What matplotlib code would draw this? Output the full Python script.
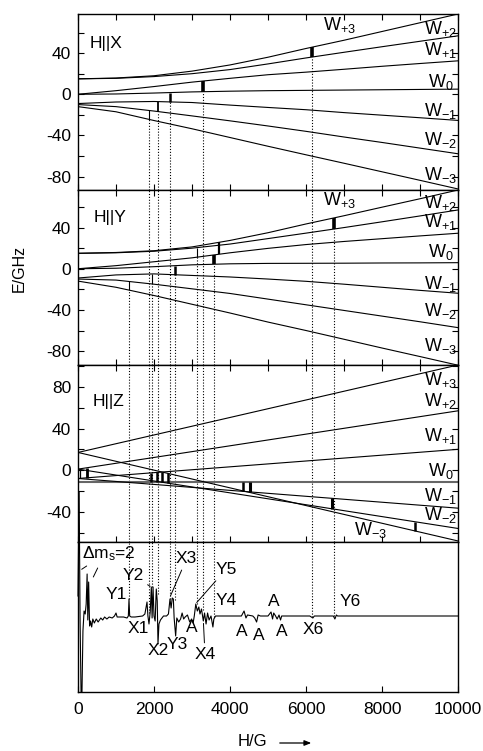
import numpy as np
import matplotlib
matplotlib.use('Agg')
import matplotlib.pyplot as plt
from matplotlib.ticker import MultipleLocator

plt.rcParams['font.family'] = ['Liberation Sans', 'DejaVu Sans']
plt.rcParams['mathtext.fontset'] = 'custom'
plt.rcParams['mathtext.rm'] = 'Liberation Sans'
plt.rcParams['mathtext.it'] = 'Liberation Sans:italic'
plt.rcParams['mathtext.default'] = 'regular'
plt.rcParams['axes.unicode_minus'] = False
plt.rcParams['axes.linewidth'] = 1.0

LEVELS = ['+3', '+2', '+1', '0', '-1', '-2', '-3']

# magnetic field (G) where the level energies were read
FIELD = [0, 1000, 2000, 3000, 4000, 5000, 6000, 7000, 8000, 9000, 10000]

# H||X energy levels (GHz)
hx_p3 = [15, 15.8, 18, 22.5, 28.5, 36, 44.5, 52.5, 61, 69.5, 78]
hx_p2 = [15, 15.5, 17.2, 20, 24, 29.5, 35.3, 40.8, 46.2, 51.5, 56.8]
hx_p1 = [0, 3.5, 7.5, 11.8, 15.5, 19, 21.5, 24.3, 27.2, 29.9, 32.5]
hx_0 = [0, 0.3, 1.2, 2.3, 3, 3.5, 3.8, 4.1, 4.4, 4.7, 5]
hx_m1 = [-9, -7.5, -7, -8, -10.5, -12.8, -15, -17.8, -20.3, -22.8, -25.4]
hx_m2 = [-10, -12, -16.3, -21, -25.8, -30.8, -36, -41.5, -46.8, -52.3, -57.8]
hx_m3 = [-12, -17, -25.5, -33.5, -42, -50.5, -58.8, -67, -75.3, -83.6, -92]

# H||Y energy levels (GHz)
hy_p3 = [15, 15.8, 17.5, 21.2, 27.5, 35, 43.5, 51.5, 59.8, 68, 76.5]
hy_p2 = [15, 15.5, 17, 20, 24, 29.3, 34.6, 40, 45.6, 51.3, 57.1]
hy_p1 = [0, 3, 6.8, 10.6, 15.5, 19.8, 23.5, 26.5, 29.2, 31.9, 34.5]
hy_0 = [0, 0.5, 2, 3.8, 4.8, 5.2, 5.3, 5.4, 5.6, 5.7, 5.9]
hy_m1 = [-9, -6, -5, -6.5, -8, -10, -12.2, -15, -18, -21, -23.8]
hy_m2 = [-10, -11, -15, -19.5, -24, -29.5, -35, -40.5, -46, -51.5, -57.2]
hy_m3 = [-12, -18, -26, -34.5, -43, -51.8, -60, -68.5, -77, -85.3, -93.7]

# H||Z energy levels (GHz), straight lines
FIELD_Z = [0, 10000]
hz_p3 = [17, 101]
hz_p2 = [1, 57]
hz_p1 = [-8, 20]
hz_0 = [-11.2, -11.2]
hz_m1 = [-8, -36.5]
hz_m2 = [1, -56]
hz_m3 = [17, -68]

# resonance transitions: field, upper level, lower level
X_NAMES = ['X1', 'X2', 'X3', 'X4', 'X6']
X_FIELDS = [1868, 2100, 2425, 3285, 6160]
X_UPPER = ['-2', '-1', '0', '+1', '+3']
X_LOWER = ['-3', '-2', '-1', '0', '+2']

Y_NAMES = ['Y1', 'Y2', 'Y3', 'Y5', 'Y4', '', 'Y6']
Y_FIELDS = [1342, 1960, 2540, 3130, 3575, 3711, 6730]
Y_UPPER = ['-2', '-1', '0', '+2', '+1', '+3', '+3']
Y_LOWER = ['-3', '-2', '-1', '+1', '0', '+1', '+2']

Z_FIELDS = [60, 230, 1921, 2070, 2219, 2377, 4351, 4526, 6693, 8868]
Z_UPPER = ['+2', '+2', '+1', '+1', '-3', '-3', '0', '0', '-1', '-2']
Z_LOWER = ['+1', '+1', '0', '0', '-2', '-2', '-1', '-1', '-2', '-3']

# EPR spectrum (derivative, arbitrary units, baseline = 0)
SPEC_FIELD = [0, 30, 55, 80, 105, 130, 160, 190, 215, 240,
              258, 280, 305, 330, 360, 390, 430, 480, 530, 600,
              650, 700, 760, 820, 900, 960, 1000, 1030, 1100, 1200,
              1290, 1325, 1342, 1360, 1400, 1500, 1600, 1700, 1760, 1816,
              1840, 1868, 1900, 1930, 1950, 1975, 2000, 2030, 2060, 2085,
              2105, 2130, 2170, 2250, 2330, 2380, 2421, 2450, 2480, 2509,
              2530, 2570, 2600, 2650, 2700, 2740, 2780, 2820, 2880, 2940,
              2990, 3030, 3060, 3100, 3140, 3180, 3210, 3250, 3298, 3330,
              3370, 3410, 3450, 3500, 3550, 3575, 3620, 4300, 4370, 4420,
              4460, 4600, 4650, 4700, 4740, 4800, 5000, 5080, 5120, 5150,
              5200, 5240, 5290, 5330, 5360, 6100, 6180, 6220, 6720, 6760,
              6800, 6830, 10000]
SPEC_SIGNAL = [20, 124, -5, -76, -76, -15, 5, 2, 12, 42,
               -4, 34, -10, -5, -11, -3, -7, -3, -6, -2,
               -4, -1, -3, -1, -2, 0, 3, -1, -1, -1,
               -2, 0, 17, 0, -1, -1, -0.5, 0, 2, 14,
               0, -8, 4, 29, -2, 29, 0, -5, 27, 15,
               -28, -8, -4, 0, 0, 2, 17, 8, 18, 17,
               -2, -20, -2, -6, -3, 3, -3, -1, 1, -6,
               -3, -7, 0, 12, 5, 9, 2, 7, -5, 3,
               -8, 3, -4, 0, -11, -3, 0, 0, 5, -2,
               1, 0, -2, -6, 1, 0, 0, 4, -3, 3,
               0, -3, 1, -4, 0, 0, -2, 0, 0, -3,
               1, 0, 0]

# labels on the spectrum: text, field, signal
SPEC_LABELS = [('Y1', 1013, 21.5), ('X1', 1579, -12.5), ('X2', 2118, -34.5),
               ('Y3', 2605, -28.5), ('A', 2990, -12), ('Y4', 3890, 15.7),
               ('A', 4307, -16), ('A', 4746, -19), ('A', 5140, 14),
               ('A', 5360, -15.5), ('X6', 6184, -13.5), ('Y6', 7158, 15)]
# labels with a pointer: text, label position, pointed feature
SPEC_POINTERS = [('Y2', 1447, 40, 1930, 29), ('X3', 2860, 57.5, 2421, 19),
                 ('Y5', 3890, 46.5, 3100, 12.4), ('X4', 3342, -38.5, 3300, -6)]

# level label positions per panel (field, energy)
LABEL_X = {'+3': (6870, 67.5), '+2': (9550, 63), '+1': (9550, 43), '0': (9550, 12),
           '-1': (9550, -16), '-2': (9550, -44), '-3': (9550, -78)}
LABEL_Y = {'+3': (6870, 66.3), '+2': (9550, 63.8), '+1': (9550, 45), '0': (9550, 15.8),
           '-1': (9550, -14.8), '-2': (9550, -41.5), '-3': (9550, -75.4)}
LABEL_Z = {'+3': (9550, 86.5), '+2': (9550, 66), '+1': (9550, 33), '0': (9550, -0.5),
           '-1': (9550, -24.5), '-2': (9550, -43), '-3': (7700, -57.5)}

curves_x = dict(zip(LEVELS, [hx_p3, hx_p2, hx_p1, hx_0, hx_m1, hx_m2, hx_m3]))
curves_y = dict(zip(LEVELS, [hy_p3, hy_p2, hy_p1, hy_0, hy_m1, hy_m2, hy_m3]))
curves_z = dict(zip(LEVELS, [hz_p3, hz_p2, hz_p1, hz_0, hz_m1, hz_m2, hz_m3]))

X_WIDTHS = [0.8, 1.3, 1.8, 2.6, 2.6]
Y_WIDTHS = [0.8, 0.8, 1.8, 0.8, 2.6, 1.6, 2.6]
Z_WIDTHS = [0.9, 2.0, 1.8, 1.8, 1.8, 1.8, 1.8, 2.2, 2.2, 1.8]

fig = plt.figure(figsize=(4.83, 7.51), dpi=100)
left, width = 78 / 483, 380 / 483
ax1 = fig.add_axes([left, 1 - 190 / 751, width, 176 / 751])
ax2 = fig.add_axes([left, 1 - 365 / 751, width, 175 / 751])
ax3 = fig.add_axes([left, 1 - 542 / 751, width, 177 / 751])
ax4 = fig.add_axes([left, 1 - 692 / 751, width, 150 / 751])

ax1.set_ylim(-93, 78)
ax2.set_ylim(-93.5, 76.5)
ax3.set_ylim(-69, 101)
ax4.set_ylim(-76, 74)

dotted = dict(colors='black', linewidths=0.8, linestyles=[(0, (1, 1.6))], zorder=1)


def bar_ends(field, curves, h, up, lo):
    return np.interp(h, field, curves[lo]), np.interp(h, field, curves[up])


panels = [(ax1, FIELD, curves_x, LABEL_X, 'H||X', (316, 49.5)),
          (ax2, FIELD, curves_y, LABEL_Y, 'H||Y', (421, 49.8)),
          (ax3, FIELD_Z, curves_z, LABEL_Z, 'H||Z', (395, 66))]

for ax, field, curves, labels, title, tpos in panels:
    for name in LEVELS:
        if ax is ax3 and name == '0':
            ax.plot(field, curves[name], color='0.4', lw=1.5, zorder=2)
        else:
            ax.plot(field, curves[name], color='black', lw=0.8, zorder=2)
        lx, ly = labels[name]
        sub = name if name == '0' else '{' + name + '}'
        ax.text(lx, ly, 'W$_' + sub + '$', fontsize=13, ha='center', va='center')
    ax.text(tpos[0], tpos[1], title, fontsize=12.5, ha='left', va='center')

# transition bars
for h, up, lo, w in zip(X_FIELDS, X_UPPER, X_LOWER, X_WIDTHS):
    e_lo, e_up = bar_ends(FIELD, curves_x, h, up, lo)
    ax1.vlines(h, e_lo, e_up, colors='black', linewidths=w, zorder=3)
for h, up, lo, w in zip(Y_FIELDS, Y_UPPER, Y_LOWER, Y_WIDTHS):
    e_lo, e_up = bar_ends(FIELD, curves_y, h, up, lo)
    ax2.vlines(h, e_lo, e_up, colors='black', linewidths=w, zorder=3)
for h, up, lo, w in zip(Z_FIELDS, Z_UPPER, Z_LOWER, Z_WIDTHS):
    e_lo, e_up = bar_ends(FIELD_Z, curves_z, h, up, lo)
    ax3.vlines(h, e_lo, e_up, colors='black', linewidths=w, zorder=3)


def spec_top(h):
    window = np.linspace(h - 30, h + 30, 13)
    return np.interp(window, SPEC_FIELD, SPEC_SIGNAL).max()


# dotted guide lines from the level diagrams down to the spectrum
for h, up, lo in zip(X_FIELDS, X_UPPER, X_LOWER):
    e_lo, _ = bar_ends(FIELD, curves_x, h, up, lo)
    ax1.vlines(h, ax1.get_ylim()[0], e_lo, **dotted)
    ax2.vlines(h, *ax2.get_ylim(), **dotted)
    ax3.vlines(h, *ax3.get_ylim(), **dotted)
    ax4.vlines(h, spec_top(h), ax4.get_ylim()[1], **dotted)
for name, h, up, lo in zip(Y_NAMES, Y_FIELDS, Y_UPPER, Y_LOWER):
    if not name:
        continue
    e_lo, _ = bar_ends(FIELD, curves_y, h, up, lo)
    ax2.vlines(h, ax2.get_ylim()[0], e_lo, **dotted)
    ax3.vlines(h, *ax3.get_ylim(), **dotted)
    ax4.vlines(h, spec_top(h), ax4.get_ylim()[1], **dotted)

# spectrum
ax4.plot(SPEC_FIELD, SPEC_SIGNAL, color='black', lw=0.8, clip_on=False, zorder=4)
for text, h, v in SPEC_LABELS:
    ax4.text(h, v, text, fontsize=12.5, ha='center', va='center')
for text, h, v, ph, pv in SPEC_POINTERS:
    ax4.annotate(text, xy=(ph, pv), xytext=(h, v), fontsize=12.5, ha='center', va='center',
                 arrowprops=dict(arrowstyle='-', lw=0.7, color='black', shrinkA=1, shrinkB=1))
ax4.text(105, 62, 'Δm$_s$=2', fontsize=12.5, ha='left', va='center')
ax4.annotate('', xy=(97, 46.7), xytext=(228, 50),
             arrowprops=dict(arrowstyle='-', lw=0.7, color='black', shrinkA=0, shrinkB=0))
ax4.annotate('', xy=(403, 39), xytext=(518, 48),
             arrowprops=dict(arrowstyle='-', lw=0.7, color='black', shrinkA=0, shrinkB=0))

# axes styling
for ax in (ax1, ax2, ax3, ax4):
    ax.set_xlim(0, 10000)
for ax in (ax1, ax2, ax3):
    ax.xaxis.set_major_locator(MultipleLocator(1000))
    ax.yaxis.set_major_locator(MultipleLocator(40))
    ax.yaxis.set_minor_locator(MultipleLocator(20))
    ax.tick_params(which='both', direction='in', top=True, right=True, length=4,
                   width=0.8, labelsize=12.5, labelbottom=False, pad=5)
ax4.xaxis.set_major_locator(MultipleLocator(2000))
ax4.set_yticks([])
ax4.tick_params(direction='in', top=False, length=4, width=0.8, labelsize=12.5, pad=7)

fig.text(19 / 483, 1 - 268 / 751, 'E/GHz', rotation=90, fontsize=11.5,
         ha='center', va='center')
fig.text(252 / 483, 1 - 742 / 751, 'H/G', fontsize=12, ha='center', va='center')
fig.add_artist(matplotlib.patches.FancyArrowPatch(
    (277 / 483, 1 - 743 / 751), (314 / 483, 1 - 743 / 751), transform=fig.transFigure,
    arrowstyle='-|>,head_length=4,head_width=1.6', lw=0.9, color='black'))

fig.savefig('out.png', dpi=100)
